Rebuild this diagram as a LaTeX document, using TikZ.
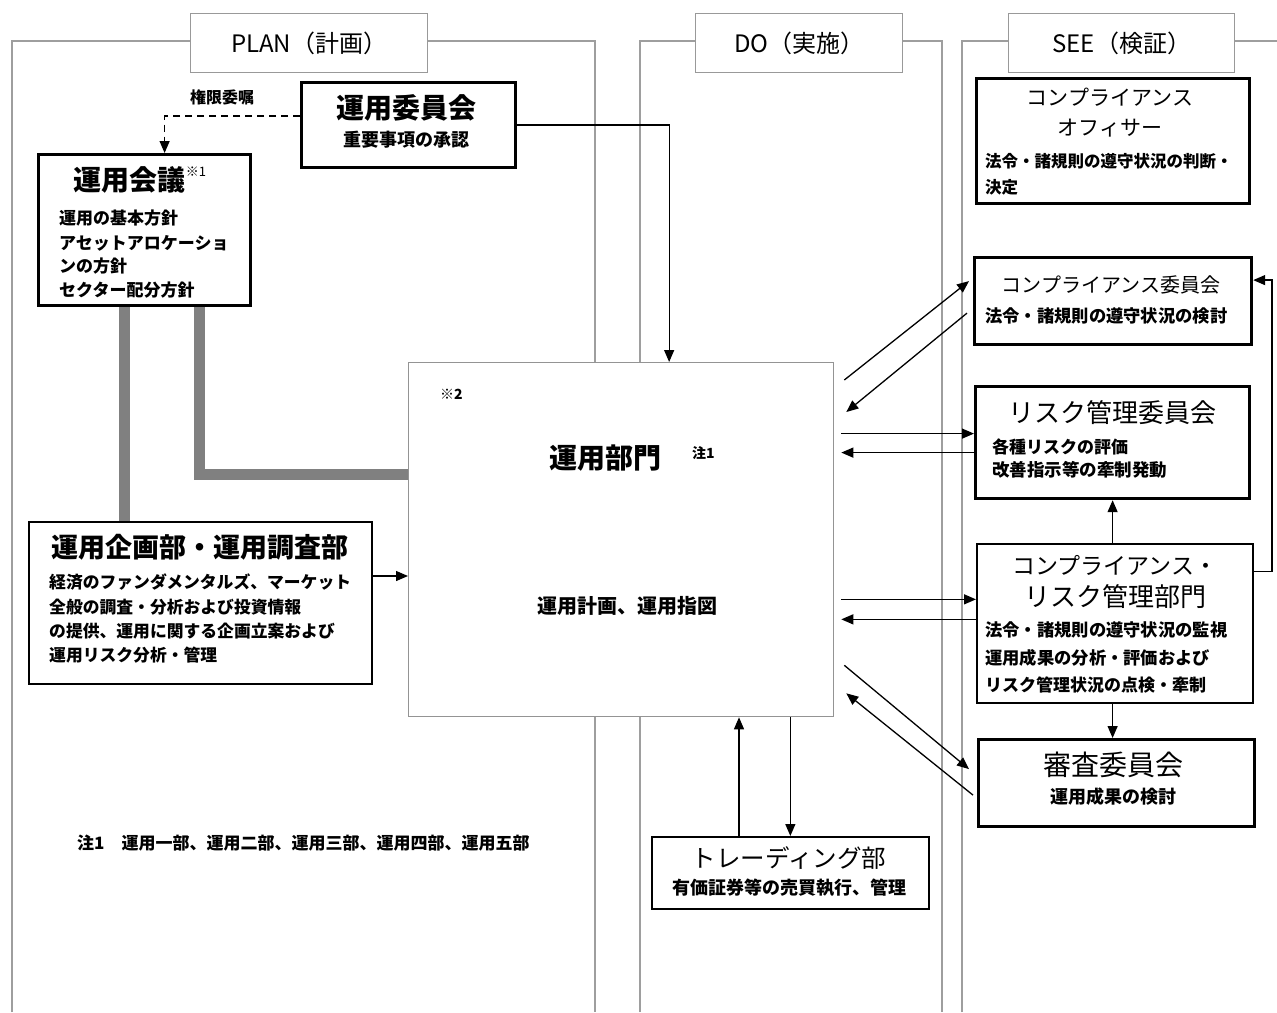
\documentclass[tikz,border=0pt]{standalone}
\usepackage{fontspec}
\setmainfont{Noto Sans CJK JP}
\usetikzlibrary{arrows.meta,calc}
\begin{document}
\begin{tikzpicture}[x=1pt,y=-1pt,
  frame/.style={draw=black!38,line width=1.2pt},
  hdr/.style={draw=black!40,line width=1.4pt,fill=white,rectangle,anchor=north west,inner sep=0pt,font=\fontsize{24pt}{26pt}\selectfont},
  thickbox/.style={draw=black,line width=3.2pt,fill=white,rectangle,anchor=north west,inner sep=0pt},
  thinbox/.style={draw=black,line width=1.7pt,fill=white,rectangle,anchor=north west,inner sep=0pt},
  bigbox/.style={draw=black!42,line width=1.3pt,fill=white,rectangle,anchor=north west,inner sep=0pt},
  arr/.style={draw=black,line width=1.3pt,-{Triangle[length=12pt,width=10pt]}},
  gconn/.style={draw=black!50,line width=11pt},
  ttl/.style={font=\bfseries\fontsize{#1}{#1}\selectfont,inner sep=0pt},
  ttl/.default=27pt,
  body/.style={font=\bfseries\fontsize{#1}{#1}\selectfont,inner sep=0pt,anchor=west},
  body/.default=17pt
]
\fill[white] (0,0) rectangle (1277,1012);
\useasboundingbox (0,0) rectangle (1277,1012);

% column frames
\draw[frame] (12,1012) -- (12,41) -- (595,41) -- (595,1012);
\draw[frame] (640,1012) -- (640,41) -- (942,41) -- (942,1012);
\draw[frame] (962,1012) -- (962,41) -- (1277,41);

% headers
\node[hdr,minimum width=237pt,minimum height=59pt] (hplan) at (190,13) {PLAN（計画）};
\node[hdr,minimum width=207pt,minimum height=59pt] (hdo) at (695,13) {DO（実施）};
\node[hdr,minimum width=226pt,minimum height=59pt] (hsee) at (1008,13) {SEE（検証）};

% boxes
\node[thickbox,minimum width=214pt,minimum height=85pt] (iinkai) at (300,81) {};
\node[thickbox,minimum width=212pt,minimum height=151pt] (kaigi) at (37,153) {};
\node[thinbox,line width=2pt,minimum width=343pt,minimum height=162pt] (kikaku) at (28,521) {};
\node[bigbox,minimum width=425pt,minimum height=354pt] (bu) at (408,362) {};
\node[thickbox,minimum width=273pt,minimum height=125pt] (officer) at (975,77) {};
\node[thickbox,minimum width=277pt,minimum height=87pt] (cc) at (973,256) {};
\node[thickbox,minimum width=274pt,minimum height=112pt] (rmc) at (974,385) {};
\node[thinbox,minimum width=276pt,minimum height=159pt] (crd) at (976,543) {};
\node[thickbox,minimum width=276pt,minimum height=87pt] (shinsa) at (977,738) {};
\node[thinbox,minimum width=277pt,minimum height=72pt] (tr) at (651,836) {};

% thick gray links
\coordinate (g1) at (124,0);
\coordinate (g2) at (199,0);
\coordinate (g3) at (0,474);
\draw[gconn] (kaigi.south -| g1) -- (kikaku.north -| g1);
\draw[gconn] (kaigi.south -| g2) |- (g3 -| bu.west);

% connectors
\draw[arr] (iinkai.east) -| ([xshift=48pt]bu.north);
\draw[arr,dash pattern=on 7pt off 5pt] ([yshift=9pt]iinkai.west) -| ([xshift=20pt]kaigi.north);

\coordinate (k1) at ([yshift=27pt]kikaku.east);
\draw[arr] (k1) -- (k1 -| bu.west);

\draw[arr] ($(bu.north east)+(10,18)$) -- ([xshift=-4pt,yshift=20pt]cc.west);
\draw[arr] ([xshift=-6pt,yshift=-12pt]cc.west) -- ($(bu.north east)+(12,50)$);

\coordinate (r1) at ([yshift=9pt]rmc.west);
\coordinate (r2) at ([yshift=-10pt]rmc.west);
\draw[arr,shorten <=7pt] (r1 -| bu.east) -- (r1);
\draw[arr,shorten >=7pt] (r2) -- (r2 -| bu.east);

\coordinate (c1) at ([yshift=24pt]crd.west);
\coordinate (c2) at ([yshift=4pt]crd.west);
\draw[arr,shorten <=7pt] (c1 -| bu.east) -- (c1);
\draw[arr,shorten >=7pt] (c2) -- (c2 -| bu.east);

\draw[arr] ($(bu.south east)+(10,-52)$) -- ([xshift=-8pt,yshift=14pt]shinsa.west);
\draw[arr] ([xshift=-4pt,yshift=-12pt]shinsa.west) -- ($(bu.south east)+(12,-24)$);

\draw[arr] (rmc.south |- crd.north) -- (rmc.south);
\draw[arr] (rmc.south |- crd.south) -- (rmc.south |- shinsa.north);

\coordinate (rr) at (1272,0);
\coordinate (cce) at ([yshift=21pt]cc.east);
\draw[arr] ([yshift=52pt]crd.east) -| (rr |- cce) -- (cce);

\coordinate (t1) at (739,0);
\draw[arr] (t1 |- tr.north) -- (t1 |- bu.south);
\draw[arr] (bu.south -| tr.north) -- (tr.north);

% texts
\node[body=16pt,anchor=center] (kengen) at (222,97) {権限委嘱};

\node[ttl=28pt] (iinkaiT) at (406,108) {運用委員会};
\node[body=18pt,anchor=center] (iinkaiB) at (406,140) {重要事項の承認};

\node[ttl=28pt] (kaigiT) at (140,180) {運用会議\raisebox{0.5em}{\mdseries\fontsize{13pt}{13pt}\selectfont ※1}};
\node[body] (kaigiB1) at (59,218) {運用の基本方針};
\node[body] (kaigiB2) at (59,243) {アセットアロケーショ};
\node[body] (kaigiB3) at (59,266) {ンの方針};
\node[body] (kaigiB4) at (59,290) {セクター配分方針};

\node[ttl=27pt] (kikakuT) at (200,547) {運用企画部・運用調査部};
\node[body=16.8pt] (kikakuB1) at (49,582) {経済のファンダメンタルズ、マーケット};
\node[body=16.8pt] (kikakuB2) at (49,607) {全般の調査・分析および投資情報};
\node[body=16.8pt] (kikakuB3) at (49,631) {の提供、運用に関する企画立案および};
\node[body=16.8pt] (kikakuB4) at (49,655) {運用リスク分析・管理};

\node[body=14pt] (buN2) at (440,394) {※2};
\node[ttl=28pt] (buT) at (605,458) {運用部門};
\node[body=14pt] (buN1) at (692,453) {注1};
\node[body=20pt,anchor=center] (buB) at (627,606) {運用計画、運用指図};

\node[body=17pt] (note) at (77,843) {注1\quad 運用一部、運用二部、運用三部、運用四部、運用五部};

\node[ttl=21pt,font=\mdseries\fontsize{21pt}{21pt}\selectfont] (offT1) at (1110,97) {コンプライアンス};
\node[ttl=21pt,font=\mdseries\fontsize{21pt}{21pt}\selectfont] (offT2) at (1110,128) {オフィサー};
\node[body=16.5pt] (offB1) at (985,161) {法令・諸規則の遵守状況の判断・};
\node[body=16.5pt] (offB2) at (985,187) {決定};

\node[ttl=20pt,font=\mdseries\fontsize{20pt}{20pt}\selectfont] (ccT) at (1111,285) {コンプライアンス委員会};
\node[body=17.3pt] (ccB) at (985,316) {法令・諸規則の遵守状況の検討};

\node[ttl=26pt,font=\mdseries\fontsize{26pt}{26pt}\selectfont] (rmcT) at (1112,413) {リスク管理委員会};
\node[body=17pt] (rmcB1) at (992,447) {各種リスクの評価};
\node[body=17.5pt] (rmcB2) at (992,470) {改善指示等の牽制発動};

\node[ttl=23pt,font=\mdseries\fontsize{23pt}{23pt}\selectfont] (crdT1) at (1115,565) {コンプライアンス・};
\node[ttl=26pt,font=\mdseries\fontsize{26pt}{26pt}\selectfont] (crdT2) at (1115,597) {リスク管理部門};
\node[body=17.3pt] (crdB1) at (985,630) {法令・諸規則の遵守状況の監視};
\node[body=17.3pt] (crdB2) at (985,658) {運用成果の分析・評価および};
\node[body=17pt] (crdB3) at (985,685) {リスク管理状況の点検・牽制};

\node[ttl=28pt,font=\mdseries\fontsize{28pt}{28pt}\selectfont] (shinsaT) at (1113,765) {審査委員会};
\node[body=18pt,anchor=center] (shinsaB) at (1113,797) {運用成果の検討};

\node[ttl=24.5pt,font=\mdseries\fontsize{24.5pt}{24.5pt}\selectfont] (trT) at (789,858) {トレーディング部};
\node[body=18pt,anchor=center] (trB) at (789,888) {有価証券等の売買執行、管理};
\end{tikzpicture}
\end{document}
